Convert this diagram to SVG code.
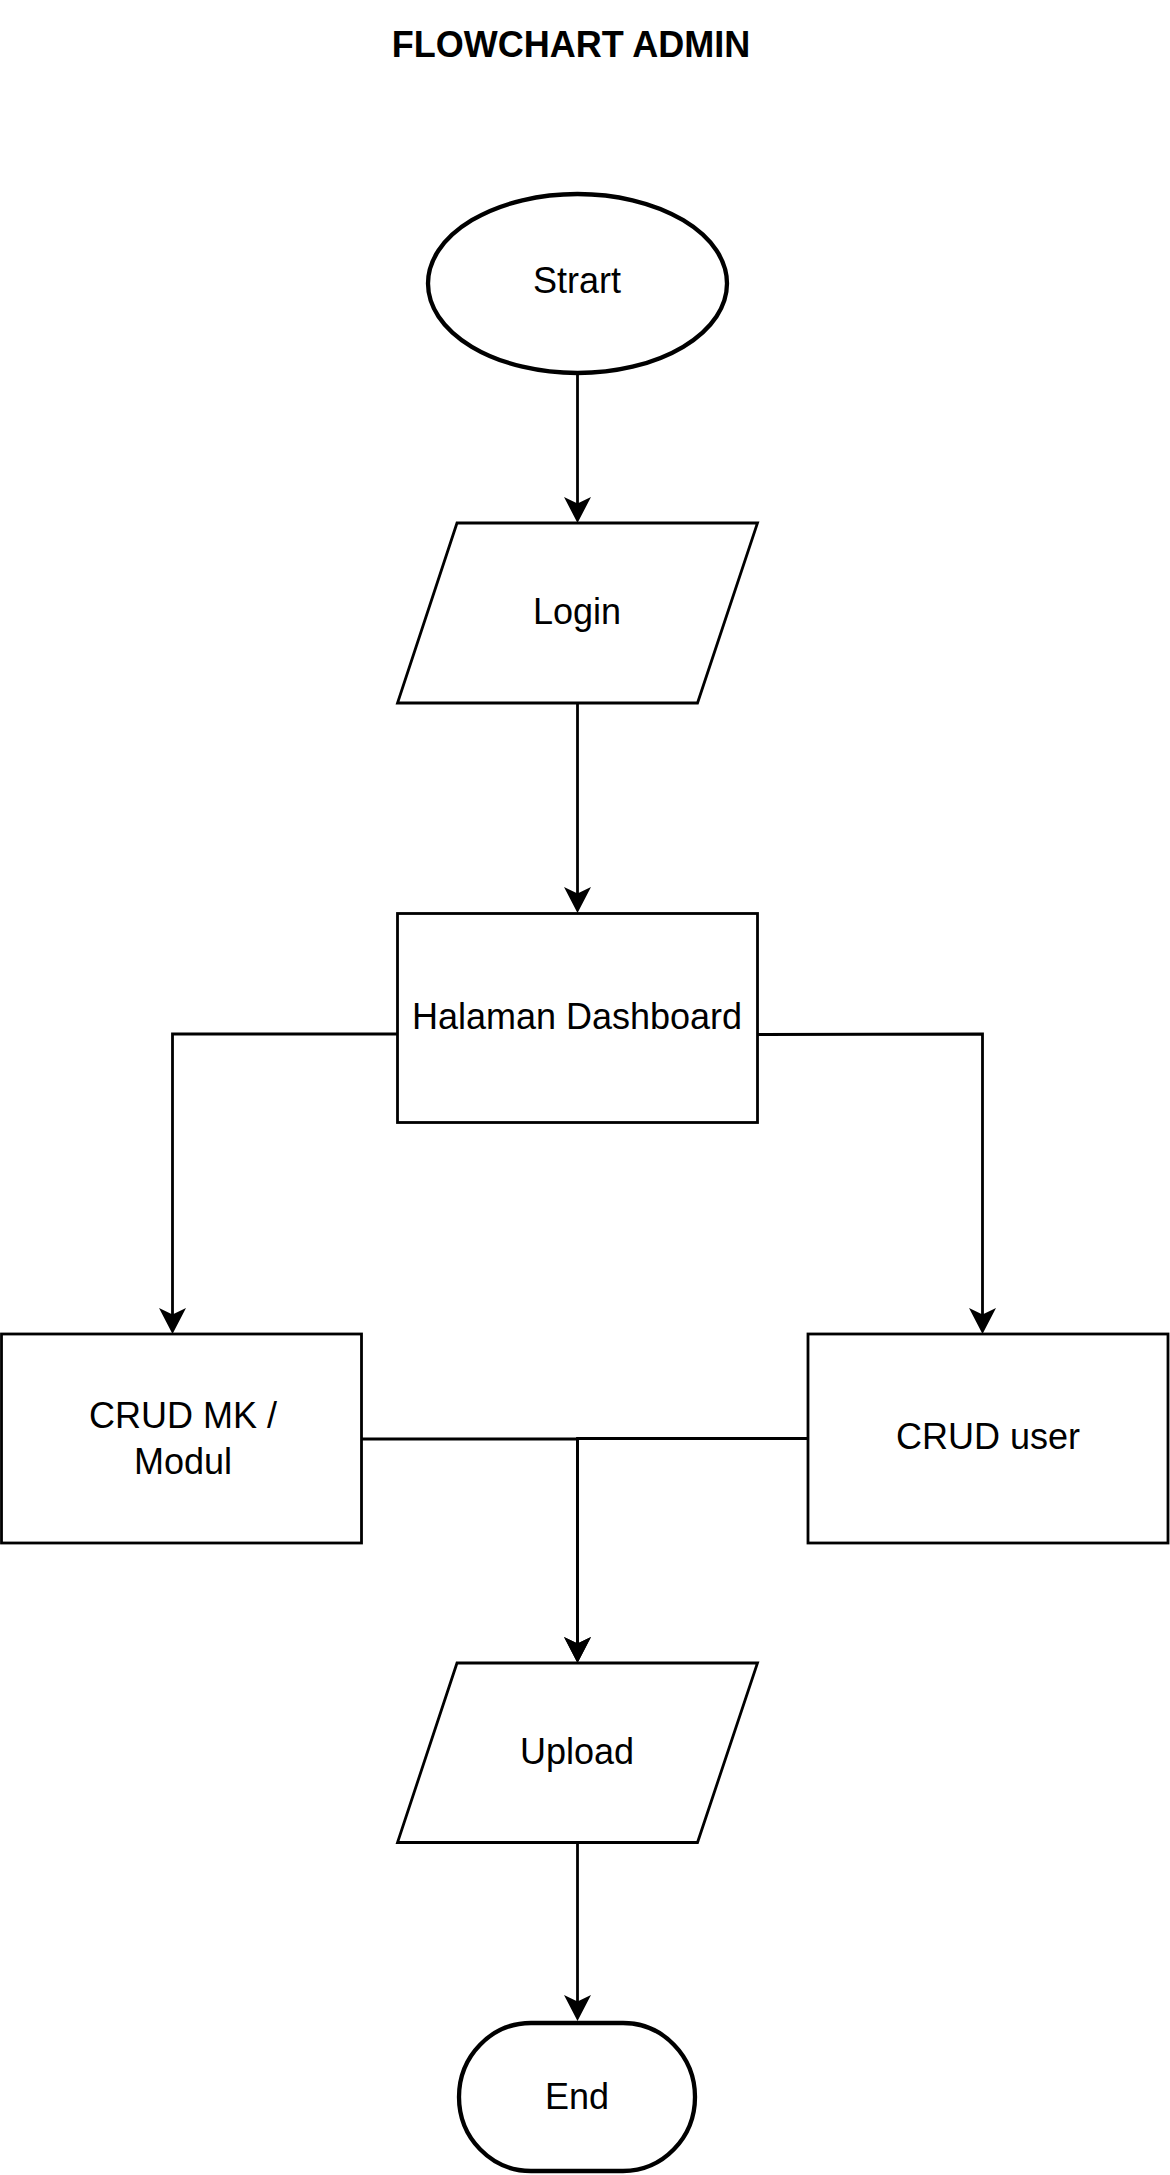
<svg xmlns="http://www.w3.org/2000/svg" width="1170" height="2175" viewBox="0 0 1170 2175">
  <style>
    .node { fill: #ffffff; stroke: #000000; stroke-width: 2.8; }
    .thick { fill: #ffffff; stroke: #000000; stroke-width: 4.3; }
    .lbl { font-family: "Liberation Sans", Arial, Helvetica, sans-serif; font-size: 36px; fill: #000000; text-anchor: middle; }
    .title { font-family: "Liberation Sans", Arial, Helvetica, sans-serif; font-size: 36px; font-weight: bold; fill: #000000; text-anchor: middle; }
    .edge { fill: none; stroke: #000000; stroke-width: 2.8; }
  </style>
  <defs>
    <marker id="arrow" markerUnits="userSpaceOnUse" markerWidth="40" markerHeight="40" viewBox="-20 -20 40 40" refX="0" refY="0" orient="auto">
      <path d="M10,0 L-16,-13.5 L-9.5,0 L-16,13.5 Z" fill="#000000" stroke="none"/>
    </marker>
  </defs>
  <rect width="1170" height="2175" fill="#ffffff"/>

  <text class="title" x="571" y="57">FLOWCHART ADMIN</text>

  <g id="connectors">
    <path class="edge" d="M577.5,374 L577.5,513" marker-end="url(#arrow)"/>
    <path class="edge" d="M577.5,703 L577.5,903" marker-end="url(#arrow)"/>
    <path class="edge" d="M397.5,1034 L172.5,1034 L172.5,1324" marker-end="url(#arrow)"/>
    <path class="edge" d="M757.5,1034.5 L982.5,1034 L982.5,1324" marker-end="url(#arrow)"/>
    <path class="edge" d="M361.5,1439 L577.5,1439 L577.5,1653" marker-end="url(#arrow)"/>
    <path class="edge" d="M808,1438.5 L577.5,1438.5 L577.5,1653" marker-end="url(#arrow)"/>
    <path class="edge" d="M577.5,1842.5 L577.5,2011" marker-end="url(#arrow)"/>
  </g>

  <g id="start">
    <ellipse class="thick" cx="577.5" cy="283.5" rx="149.5" ry="89.5"/>
    <text class="lbl" x="577" y="293">Strart</text>
  </g>

  <g id="login">
    <polygon class="node" points="457,523 757.5,523 697.5,703 397.5,703"/>
    <text class="lbl" x="577" y="624">Login</text>
  </g>

  <g id="dashboard">
    <rect class="node" x="397.5" y="913.5" width="360" height="209"/>
    <text class="lbl" x="577" y="1028.5">Halaman Dashboard</text>
  </g>

  <g id="crud-mk">
    <rect class="node" x="1.5" y="1334" width="360" height="209"/>
    <text class="lbl" x="183" y="1428">CRUD MK /</text>
    <text class="lbl" x="183" y="1474">Modul</text>
  </g>

  <g id="crud-user">
    <rect class="node" x="808" y="1334" width="360" height="209"/>
    <text class="lbl" x="988" y="1449">CRUD user</text>
  </g>

  <g id="upload">
    <polygon class="node" points="457,1663 757.5,1663 697.5,1842.5 397.5,1842.5"/>
    <text class="lbl" x="577" y="1763.5">Upload</text>
  </g>

  <g id="end">
    <rect class="thick" x="459" y="2023" width="236" height="148" rx="72" ry="74"/>
    <text class="lbl" x="577" y="2109">End</text>
  </g>
</svg>
